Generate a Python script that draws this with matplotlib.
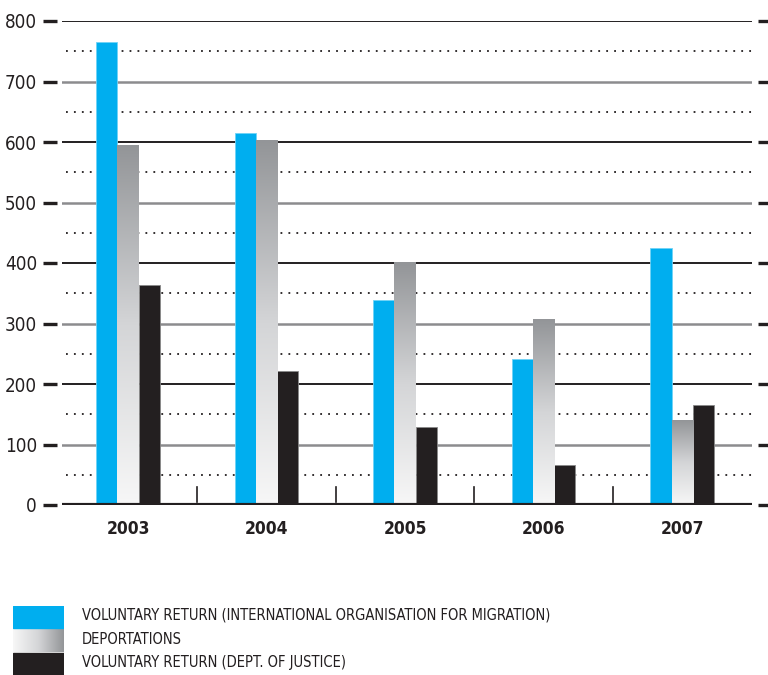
import numpy as np
import matplotlib.pyplot as plt
from matplotlib.colors import LinearSegmentedColormap

years = ['2003', '2004', '2005', '2006', '2007']
iom_return = [765, 615, 339, 241, 425]
deportations = [595, 603, 400, 306, 139]
doj_return = [364, 221, 129, 66, 165]
legend_labels = ['VOLUNTARY RETURN (INTERNATIONAL ORGANISATION FOR MIGRATION)',
                 'DEPORTATIONS',
                 'VOLUNTARY RETURN (DEPT. OF JUSTICE)']

BLUE = '#00aeef'
DARK = '#231f20'
GRID_GRAY = '#8c8c8e'
plt.rcParams['font.family'] = ['DejaVu Sans Condensed', 'Liberation Sans Narrow', 'DejaVu Sans']
plt.rcParams['font.stretch'] = 'condensed'

grad = LinearSegmentedColormap.from_list('dep', ['#f7f7f7', '#d4d5d7', '#939598'])

W, H = 768, 675
fig = plt.figure(figsize=(W / 100, H / 100), dpi=100)
ax = fig.add_axes([62 / W, (H - 505) / H, 690 / W, 484 / H])

x = np.arange(len(years))
bw = 0.152
for s in ax.spines.values():
    s.set_visible(False)

# grid: solid lines at hundreds (alternating dark / gray), dotted at fifties
for v in range(100, 801, 100):
    c = DARK if (v // 100) % 2 == 0 else GRID_GRAY
    ax.axhline(v, color=c, lw=1.4 if c == DARK else 1.8, zorder=1)
for v in range(50, 800, 100):
    ax.axhline(v, xmin=0.006, color=DARK, lw=1.3, ls=(0, (1, 3.4)), zorder=1)
ax.axhline(0, color=DARK, lw=3, zorder=4)

# left and right tick dashes
for v in range(0, 801, 100):
    ax.plot([-0.614, -0.513], [v, v], color=DARK, lw=2.4, clip_on=False,
            solid_capstyle='butt')
    ax.plot([4.549, 4.63], [v, v], color=DARK, lw=2.4, clip_on=False,
            solid_capstyle='butt')

# separators between years
for s in x[:-1] + 0.5:
    ax.plot([s, s], [5, 30], color=DARK, lw=1.2, zorder=3)

ax.bar(x - bw, iom_return, bw, color=BLUE, edgecolor='#6fd3f7', lw=0.6, zorder=2)
ax.bar(x + bw, doj_return, bw, color=DARK, edgecolor='#8a8a8a', lw=0.6, zorder=2)
gv = np.linspace(0, 1, 256).reshape(-1, 1)
for xi, h in zip(x, deportations):
    ax.imshow(gv, cmap=grad, aspect='auto', origin='lower',
              extent=[xi - bw / 2, xi + bw / 2, 0, h], zorder=2)
ax.set_xlim(-0.4765, 4.505)
ax.set_ylim(0, 800)

ax.set_yticks(range(0, 801, 100))
ax.set_yticklabels([str(v) for v in range(0, 801, 100)], fontsize=13.5, color=DARK)
ax.set_xticks(x)
ax.set_xticklabels(years, fontsize=12.5, fontweight='bold', color=DARK)
ax.tick_params(axis='y', length=0, pad=18)
ax.tick_params(axis='x', length=0, pad=11)

# legend
lax = fig.add_axes([13 / W, 0, 51 / W, 69 / H])
lax.set_xlim(0, 1)
lax.set_ylim(0, 69)
lax.axis('off')
lax.add_patch(plt.Rectangle((0, 47), 1, 22, color=BLUE))
lax.imshow(np.linspace(0, 1, 256).reshape(1, -1), cmap=grad, aspect='auto',
           extent=[0, 1, 23, 46])
lax.add_patch(plt.Rectangle((0, 0), 1, 22, color=DARK))
for ty, lab in zip([615, 639, 663], legend_labels):
    fig.text(82 / W, 1 - ty / H, lab, fontsize=10.5, color=DARK, va='center')

fig.savefig('out.png', dpi=100)
